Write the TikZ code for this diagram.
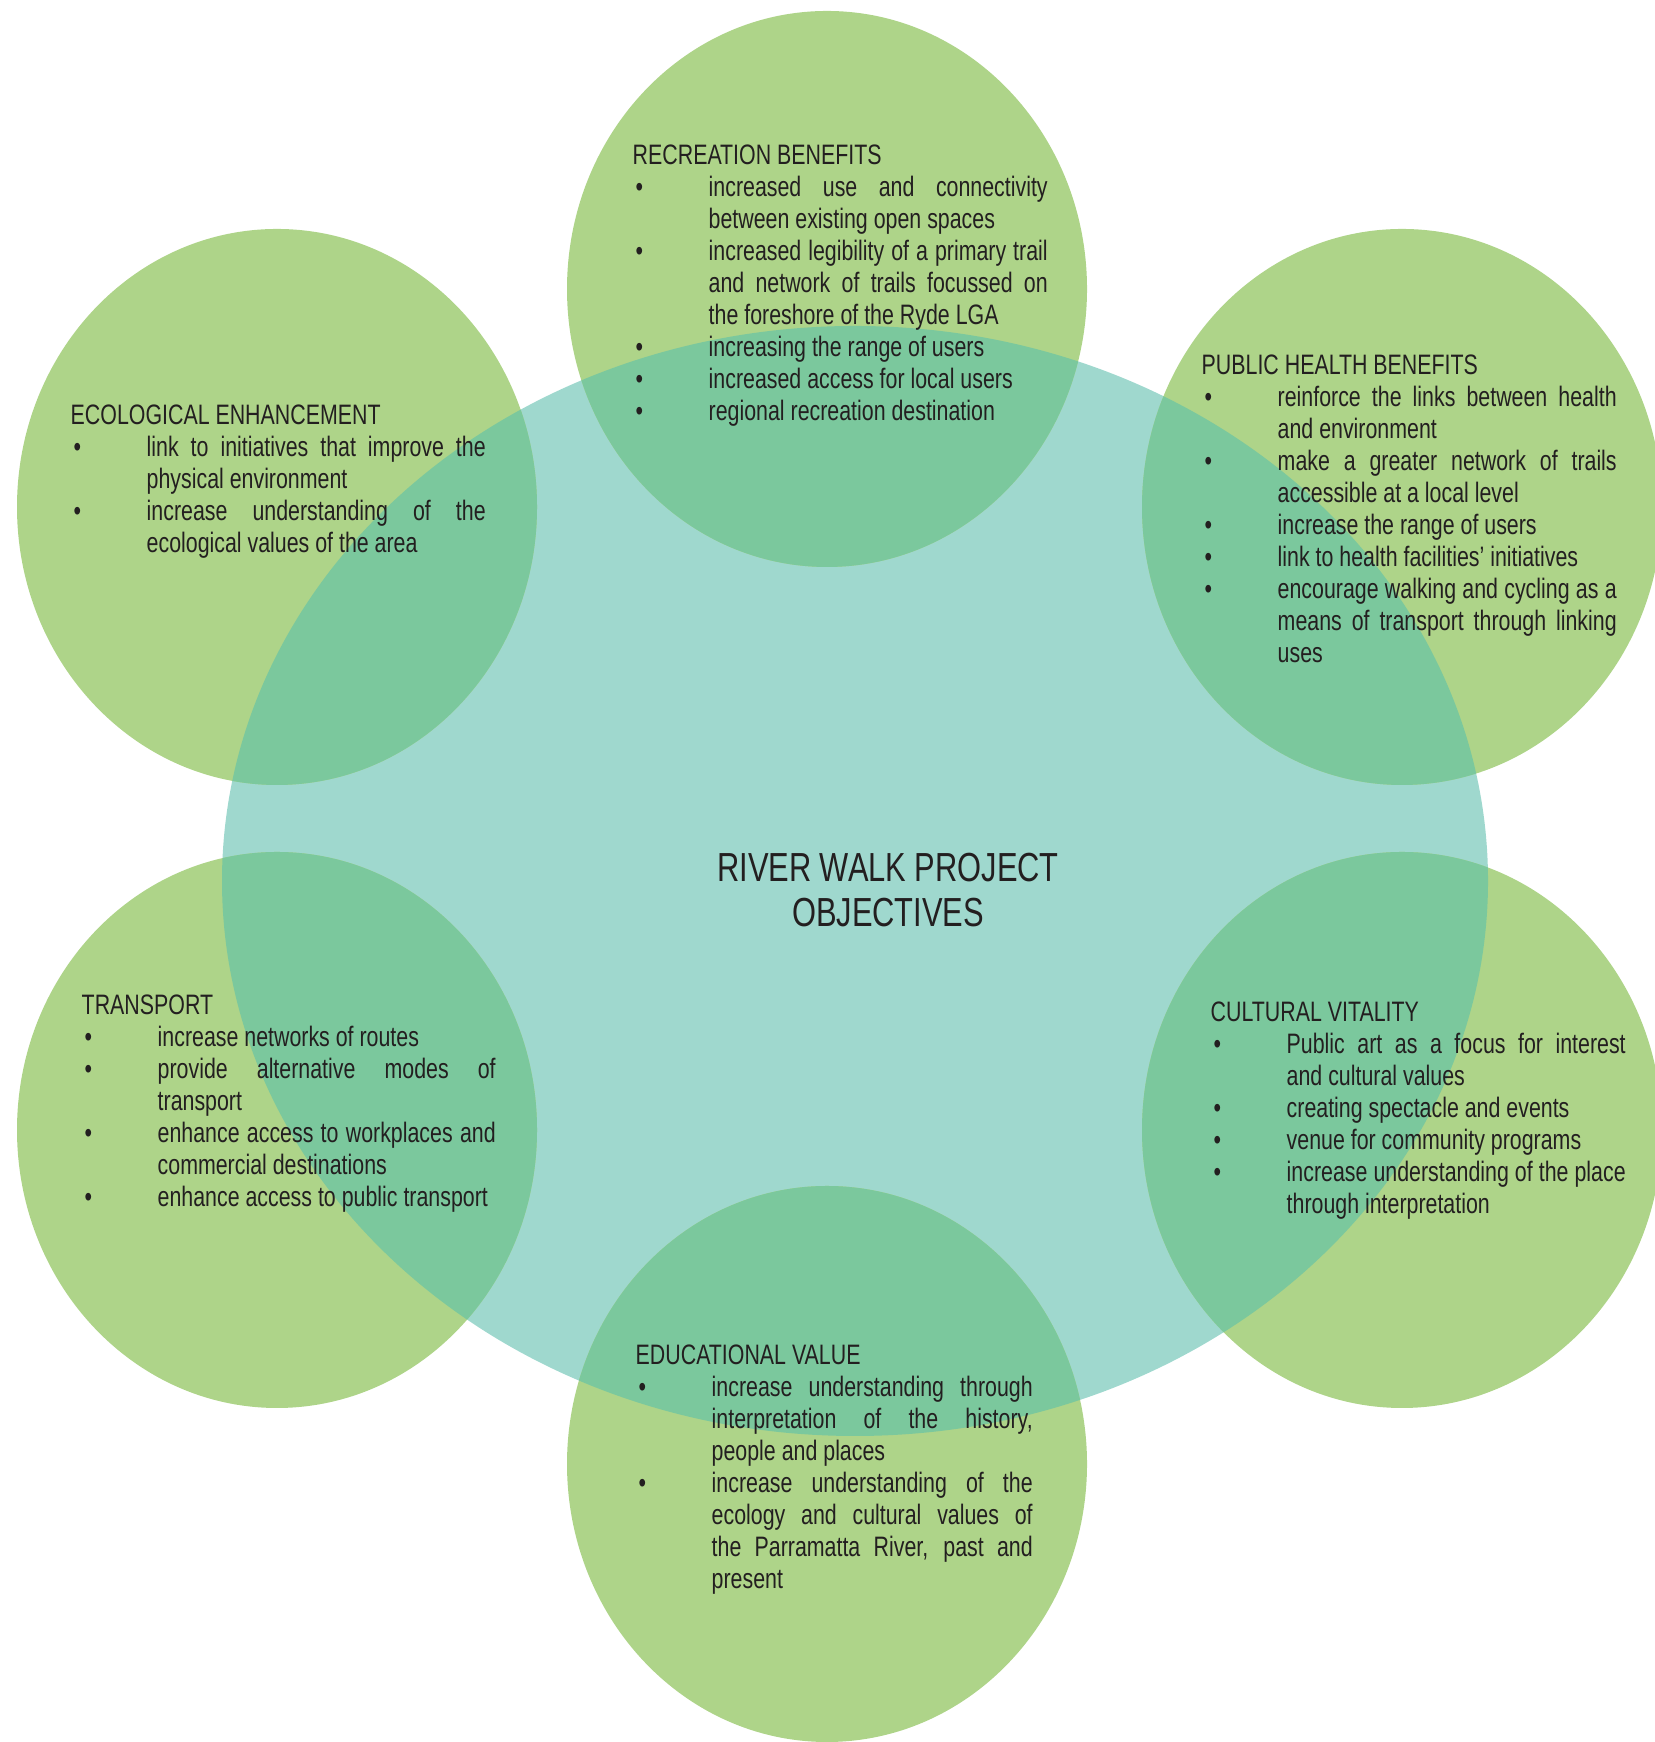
\documentclass[tikz,border=0pt]{standalone}
\usepackage{fontspec}
\setmainfont{Liberation Sans}[FakeStretch=0.76]
\usepackage{tikz}

\definecolor{leafgreen}{HTML}{AED489}
\definecolor{rivertide}{HTML}{9FD8CE}
\definecolor{blendgreen}{HTML}{7BC89D}
\definecolor{inkgrey}{HTML}{231F20}

\hyphenpenalty=10000
\exhyphenpenalty=10000
\tolerance=10000

% one bullet point with a hanging indent
\newcommand{\objpoint}[1]{\par\hangindent=7.6mm\hangafter=1\noindent
    \hspace*{0.3mm}\makebox[7.3mm][l]{\textbullet}#1\par}

\begin{document}
\begin{tikzpicture}[
    hub/.style={fill=rivertide},
    petal/.style={fill=leafgreen},
    overlap/.style={fill=blendgreen},
    objective/.style={anchor=base west,inner sep=0pt,text=inkgrey,
        text width=4.15cm,align=justify,font=\fontsize{8}{9.1}\selectfont},
    title/.style={inner sep=0pt,text=inkgrey,align=center,
        font=\fontsize{11.55}{12.66}\selectfont}]
\useasboundingbox (0,0) rectangle (16.54,17.42);
\fill[hub] (8.55,8.61) ellipse [x radius=6.33,y radius=5.55];
\foreach \x/\y in {8.27/14.53,2.77/12.35,14.02/12.35,2.77/6.12,14.02/6.12,8.27/2.78}
    \fill[petal] (\x,\y) ellipse [x radius=2.6,y radius=2.78];
\begin{scope}
    \clip (8.55,8.61) ellipse [x radius=6.33,y radius=5.55];
    \foreach \x/\y in {8.27/14.53,2.77/12.35,14.02/12.35,2.77/6.12,14.02/6.12,8.27/2.78}
        \fill[overlap] (\x,\y) ellipse [x radius=2.6,y radius=2.78];
\end{scope}

\node[title] (hubtitle) at (8.88,8.52) {RIVER WALK PROJECT\\OBJECTIVES};

\node[objective] (recreation) at (6.32,15.77) {RECREATION BENEFITS
    \objpoint{increased use and connectivity \linebreak between existing open spaces}
    \objpoint{increased legibility of a primary trail \linebreak and network of trails focussed on \linebreak the foreshore of the Ryde LGA}
    \objpoint{increasing the range of users}
    \objpoint{increased access for local users}
    \objpoint{regional recreation destination}};

\node[objective] (ecology) at (0.70,13.17) {ECOLOGICAL ENHANCEMENT
    \objpoint{link to initiatives that improve the \linebreak physical environment}
    \objpoint{increase understanding of the \linebreak ecological values of the area}};

\node[objective] (health) at (12.01,13.67) {PUBLIC HEALTH BENEFITS
    \objpoint{reinforce the links between health \linebreak and environment}
    \objpoint{make a greater network of trails \linebreak accessible at a local level}
    \objpoint{increase the range of users}
    \objpoint{link to health facilities’ initiatives}
    \objpoint{encourage walking and cycling as a \linebreak means of transport through linking \linebreak uses}};

\node[objective,text width=4.14cm] (transport) at (0.81,7.27) {TRANSPORT
    \objpoint{increase networks of routes}
    \objpoint{provide alternative modes of \linebreak transport}
    \objpoint{enhance access to workplaces and \linebreak commercial destinations}
    \objpoint{enhance access to public transport}};

\node[objective] (culture) at (12.10,7.20) {CULTURAL VITALITY
    \objpoint{Public art as a focus for interest \linebreak and cultural values}
    \objpoint{creating spectacle and events}
    \objpoint{venue for community programs}
    \objpoint{increase understanding of the place \linebreak through interpretation}};

\node[objective,text width=3.97cm] (education) at (6.35,3.77) {EDUCATIONAL VALUE
    \objpoint{increase understanding through \linebreak interpretation of the history, \linebreak people and places}
    \objpoint{increase understanding of the \linebreak ecology and cultural values of \linebreak the Parramatta River, past and \linebreak present}};
\end{tikzpicture}
\end{document}
